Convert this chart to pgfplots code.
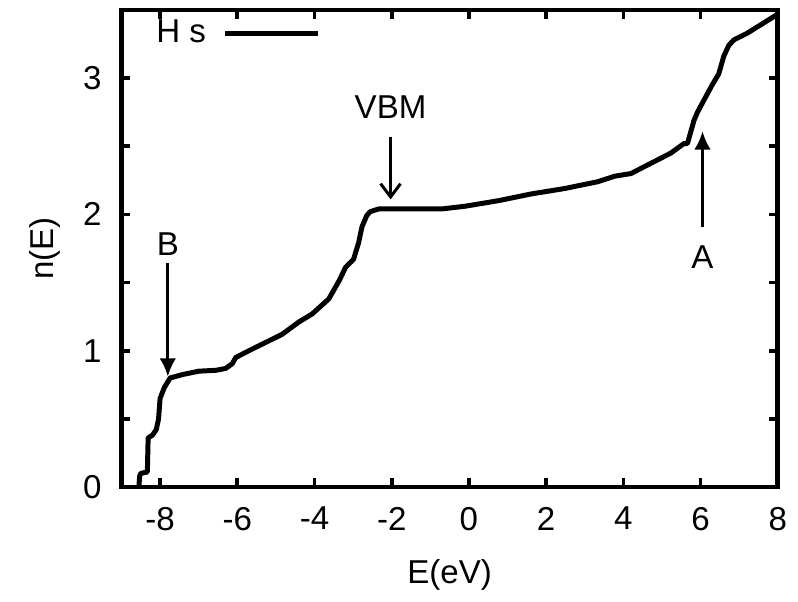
\documentclass[border=0pt]{standalone}
\usepackage{pgfplots}
\pgfplotsset{compat=1.18}
\usepackage{fontspec}
\setmainfont{Liberation Sans}
\usetikzlibrary{arrows.meta,calc}
\begin{document}
\begin{tikzpicture}[font=\fontsize{10}{12}\selectfont]
\begin{axis}[
  name=ax,
  scale only axis,
  width=197.7bp, height=143.7bp,
  xmin=-9, xmax=8, ymin=0, ymax=3.5,
  xtick={-8,-6,-4,-2,0,2,4,6,8},
  ytick={0,1,2,3},
  minor ytick={0.5,1.5,2.5},
  tick align=inside,
  major tick length=2.7bp,
  minor tick length=2.7bp,
  every tick/.style={line width=1.1bp, black},
  every minor tick/.style={line width=1.1bp, black},
  axis line style={line width=1.4bp},
  /pgf/number format/assume math mode=true,
  xticklabel style={yshift=-2.5bp},
  yticklabel style={xshift=-2.5bp},
  xlabel={E(eV)},
  ylabel={n(E)},
  xlabel style={yshift=-2bp},
  ylabel style={yshift=0bp},
  clip=false,
  legend style={draw=none, fill=none, at={(axis description cs:0.042,0.995)}, anchor=north west, legend plot pos=right, legend cell align=left, inner sep=0pt, nodes={inner sep=2pt}},
  legend image code/.code={\path (0bp,0bp); \draw[#1] (3bp,0bp) -- (31bp,0bp);},
]
\addplot[line width=1.5bp, black, line join=round] coordinates {
(-8.55,0.00) (-8.53,0.08) (-8.50,0.10) (-8.33,0.11) (-8.31,0.36) (-8.20,0.38)
(-8.10,0.42) (-8.04,0.50) (-8.00,0.65) (-7.89,0.73) (-7.74,0.80) (-7.42,0.825)
(-6.99,0.85) (-6.56,0.856) (-6.30,0.87) (-6.13,0.905) (-6.04,0.95) (-5.70,1.00)
(-5.27,1.06) (-4.84,1.12) (-4.41,1.21) (-4.06,1.27) (-3.63,1.38) (-3.35,1.52)
(-3.20,1.61) (-2.99,1.67) (-2.86,1.79) (-2.77,1.91) (-2.65,1.99) (-2.56,2.02)
(-2.34,2.04) (-0.71,2.04) (-0.10,2.06) (0.75,2.10) (1.61,2.15) (2.48,2.19)
(3.34,2.24) (3.77,2.28) (4.20,2.30) (4.54,2.35) (5.23,2.45) (5.57,2.52)
(5.66,2.52) (5.74,2.60) (5.83,2.69) (5.92,2.75) (6.09,2.84) (6.30,2.95)
(6.47,3.03) (6.60,3.16) (6.73,3.24) (6.86,3.28) (7.21,3.33) (7.55,3.39)
(7.89,3.45) (8.00,3.47)
};
\addlegendentry{H s}
\draw[line width=0.9bp, -{Latex[length=5.5bp,width=5bp]}] (axis cs:-7.8,1.64) -- (axis cs:-7.8,0.81);
\node at (axis cs:-7.8,1.78) {B};
\draw[line width=0.9bp, -{Straight Barb[length=4bp,width=6bp]}] (axis cs:-2.03,2.57) -- (axis cs:-2.03,2.11);
\node at (axis cs:-2.03,2.79) {VBM};
\draw[line width=0.9bp, -{Latex[length=5.5bp,width=5bp]}] (axis cs:6.05,1.905) -- (axis cs:6.05,2.61);
\node at (axis cs:6.05,1.69) {A};
\end{axis}
\path ($(ax.south west)+(-36.6bp,-31.8bp)$) rectangle ($(ax.north east)+(5.1bp,3bp)$);
\end{tikzpicture}
\end{document}
